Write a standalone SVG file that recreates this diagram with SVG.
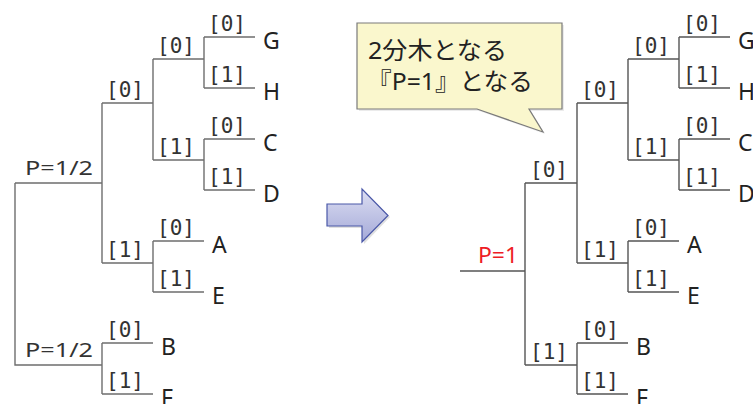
<svg xmlns="http://www.w3.org/2000/svg" width="753" height="404" viewBox="0 0 753 404">
<style>
.ln{fill:none;stroke:#6e6e6e;stroke-width:1.4}
.lb{font-family:"DejaVu Sans Mono","Liberation Mono",monospace;font-size:21px;fill:#333}
.lf{font-family:"Noto Sans","Open Sans",sans-serif;font-size:23px;fill:#222}
.pp{font-family:"Noto Sans","Open Sans",sans-serif;font-size:20px;fill:#333}
.cj{font-family:"Noto Sans","Noto Sans CJK JP",sans-serif;font-size:24px;fill:#222}
</style>
<defs>
<linearGradient id="ag" x1="0" y1="0" x2="0" y2="1">
<stop offset="0" stop-color="#dcdef2"/>
<stop offset="1" stop-color="#a4a9d8"/>
</linearGradient>
</defs>
<rect width="753" height="404" fill="#fff"/>
<g id="connectors" class="ln">
<path d="M15,183H102M15,183V365H102M102,103V263M102,103H153M102,263H153M153,59V160M153,59H204M153,160H204M204,37V88M204,37H255M204,88H255M204,139V190M204,139H255M204,190H255M153,241V292M153,241H204M153,292H204M102,343V394M102,343H153M102,394H153"/>
<path d="M460,271H525M525,183V365M525,183H577M525,365H577M577,103V263M577,103H628M577,263H628M628,59V160M628,59H679M628,160H679M679,37V88M679,37H730M679,88H730M679,139V190M679,139H730M679,190H730M628,241V292M628,241H679M628,292H679M577,343V394M577,343H628M577,394H628" stroke="#555"/>
</g>
<g id="left-tree-labels">
<g id="l-root"><text class="pp" x="25" y="175" textLength="68" lengthAdjust="spacingAndGlyphs">P=1/2</text><text class="pp" x="25" y="357" textLength="68" lengthAdjust="spacingAndGlyphs">P=1/2</text></g>
<g id="l-edges" class="lb">
<text x="106" y="97">[0]</text><text x="106" y="257">[1]</text>
<text x="157" y="53">[0]</text><text x="157" y="154">[1]</text>
<text x="208" y="31">[0]</text><text x="208" y="82">[1]</text>
<text x="208" y="133">[0]</text><text x="208" y="184">[1]</text>
<text x="157" y="235">[0]</text><text x="157" y="286">[1]</text>
<text x="106" y="337">[0]</text><text x="106" y="388">[1]</text>
</g>
<g id="l-G"><text class="lf" x="263" y="49">G</text></g>
<g id="l-H"><text class="lf" x="263" y="100">H</text></g>
<g id="l-C"><text class="lf" x="263" y="151">C</text></g>
<g id="l-D"><text class="lf" x="263" y="202">D</text></g>
<g id="l-A"><text class="lf" x="212" y="253">A</text></g>
<g id="l-E"><text class="lf" x="212" y="304">E</text></g>
<g id="l-B"><text class="lf" x="161" y="355">B</text></g>
<g id="l-F"><text class="lf" x="161" y="406">F</text></g>
</g>
<g id="arrow">
<polygon points="329,206 364,206 364,191 390,217 364,244 364,228 329,228" fill="#000" opacity="0.12"/>
<polygon points="327,204 362,204 362,189 388,215.5 362,242 362,226 327,226" fill="url(#ag)" stroke="#4a58a8" stroke-width="1.2"/>
</g>
<g id="callout">
<polygon points="359,25 564,25 564,111 531,111 545,134 479,111 359,111" fill="#000" opacity="0.08"/>
<polygon points="357,23 562,23 562,109 529,109 543,132 477,109 357,109" fill="#faf7cd" stroke="#7a7a7a" stroke-width="1.2"/>
<text class="cj" x="368" y="59" textLength="139" lengthAdjust="spacingAndGlyphs">2分木となる</text>
<text class="cj" x="367" y="90" textLength="166" lengthAdjust="spacingAndGlyphs">『P=1』となる</text>
</g>
<g id="right-tree-labels">
<g id="r-root"><text x="478" y="263" font-family="Noto Sans,Open Sans,sans-serif" font-size="22" fill="#ee1c25" textLength="40" lengthAdjust="spacingAndGlyphs">P=1</text></g>
<g id="r-edges" class="lb">
<text x="530" y="177">[0]</text><text x="530" y="359">[1]</text>
<text x="581" y="97">[0]</text><text x="581" y="257">[1]</text>
<text x="632" y="53">[0]</text><text x="632" y="154">[1]</text>
<text x="683" y="31">[0]</text><text x="683" y="82">[1]</text>
<text x="683" y="133">[0]</text><text x="683" y="184">[1]</text>
<text x="632" y="235">[0]</text><text x="632" y="286">[1]</text>
<text x="581" y="337">[0]</text><text x="581" y="388">[1]</text>
</g>
<g id="r-G"><text class="lf" x="738" y="49">G</text></g>
<g id="r-H"><text class="lf" x="738" y="100">H</text></g>
<g id="r-C"><text class="lf" x="738" y="151">C</text></g>
<g id="r-D"><text class="lf" x="738" y="202">D</text></g>
<g id="r-A"><text class="lf" x="687" y="253">A</text></g>
<g id="r-E"><text class="lf" x="687" y="304">E</text></g>
<g id="r-B"><text class="lf" x="636" y="355">B</text></g>
<g id="r-F"><text class="lf" x="636" y="406">F</text></g>
</g>
</svg>
